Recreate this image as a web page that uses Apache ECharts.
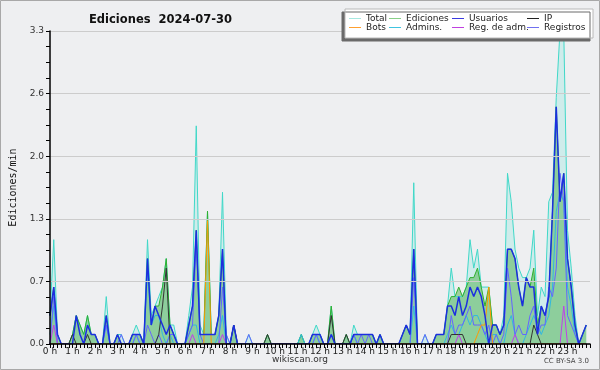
<!DOCTYPE html>
<html><head><meta charset="utf-8">
<script src="https://cdn.jsdelivr.net/npm/echarts/dist/echarts.min.js"></script>
<style>html,body{margin:0;padding:0;background:#eeeff1}#c{width:600px;height:370px}</style>
</head><body><div id="c"></div>
<script>
// 10-minute slots, 6 per hour, values in edits per minute
const hourLabels = ['0 h','1 h','2 h','3 h','4 h','5 h','6 h','7 h','8 h','9 h','10 h','11 h','12 h','13 h','14 h','15 h','16 h','17 h','18 h','19 h','20 h','21 h','22 h','23 h'];
const yTicks = [0, 0.66, 1.32, 1.98, 2.64, 3.3];

const total = [
 0.3,1.1,0.1,0,0,0,  0.1,0.3,0.2,0.1,0.3,0.1,  0.1,0,0,0.5,0,0,  0.1,0.1,0,0,0.1,0.2,
 0.1,0,1.1,0.3,0.4,0.5,  0.6,0.9,0.2,0.2,0,0,  0,0.3,0.6,2.3,0.2,0.1,  1.4,0.1,0.1,0.3,1.6,0.1,
 0,0.2,0,0,0,0.1,  0,0,0,0,0.1,0,  0,0,0,0,0,0,  0,0.1,0,0,0.1,0.2,
 0.1,0,0,0.4,0,0,  0,0.1,0,0.2,0.1,0.1,  0.1,0.1,0.1,0,0.1,0,  0,0,0,0,0.1,0.2,
 0.1,1.7,0,0,0.1,0,  0,0.1,0.1,0.1,0.4,0.8,  0.5,0.5,0.5,0.6,1.1,0.8,  1.0,0.6,0.6,0.6,0.2,0.2,
 0.1,0.3,1.8,1.5,1.0,0.8,  0.7,0.7,0.8,1.2,0.3,0.6,  0.5,1.5,1.6,2.6,3.3,3.3,  1.2,0.8,0.3,0,0.1,0.2
];
const ediciones = [
 0.3,0.6,0.1,0,0,0,  0.1,0.3,0.2,0.1,0.3,0.1,  0.1,0,0,0.3,0,0,  0.1,0,0,0,0.1,0.1,
 0.1,0,0.9,0.2,0.4,0.4,  0.6,0.9,0.2,0.1,0,0,  0,0.2,0.4,1.2,0.1,0.1,  1.4,0.1,0.1,0.3,1.0,0,
 0,0.2,0,0,0,0,  0,0,0,0,0.1,0,  0,0,0,0,0,0,  0,0.1,0,0,0.1,0.1,
 0.1,0,0,0.4,0,0,  0,0.1,0,0.1,0.1,0.1,  0.1,0.1,0.1,0,0.1,0,  0,0,0,0,0.1,0.2,
 0.1,1.0,0,0,0,0,  0,0.1,0.1,0.1,0.4,0.5,  0.5,0.6,0.5,0.6,0.7,0.7,  0.8,0.6,0.4,0.6,0.2,0.2,
 0.1,0.2,1.0,1.0,0.9,0.6,  0.4,0.7,0.6,0.8,0.2,0.4,  0.3,0.5,1.4,2.5,1.5,1.8,  0.9,0.6,0.2,0,0.1,0.2
];
const usuarios = [
 0.3,0.6,0.1,0,0,0,  0,0.3,0.1,0,0.2,0.1,  0.1,0,0,0.3,0,0,  0.1,0,0,0,0.1,0.1,
 0.1,0,0.9,0.2,0.4,0.3,  0.2,0.1,0.2,0.1,0,0,  0,0.2,0.4,1.2,0.1,0.1,  0.1,0.1,0.1,0.3,1.0,0,
 0,0.2,0,0,0,0,  0,0,0,0,0,0,  0,0,0,0,0,0,  0,0,0,0,0.1,0.1,
 0.1,0,0,0.1,0,0,  0,0,0,0.1,0.1,0.1,  0.1,0.1,0.1,0,0.1,0,  0,0,0,0,0.1,0.2,
 0.1,1.0,0,0,0,0,  0,0.1,0.1,0.1,0.4,0.4,  0.3,0.5,0.3,0.4,0.6,0.5,  0.6,0.5,0.3,0,0.2,0.2,
 0.1,0.2,1.0,1.0,0.9,0.6,  0.4,0.7,0.6,0.6,0.1,0.4,  0.3,0.5,1.4,2.5,1.5,1.8,  0.9,0.6,0.2,0,0.1,0.2
];
const ip = [
 0,0,0,0,0,0,  0.1,0,0,0,0.1,0,  0,0,0,0,0,0,  0,0,0,0,0,0,
 0,0,0,0,0,0.1,  0.4,0.8,0,0,0,0,  0,0,0,0,0,0,  0,0,0,0,0,0,
 0,0.2,0,0,0,0,  0,0,0,0,0.1,0,  0,0,0,0,0,0,  0,0,0,0,0,0,
 0,0,0,0.3,0,0,  0,0.1,0,0,0,0,  0,0,0,0,0,0,  0,0,0,0,0,0,
 0,0,0,0,0,0,  0,0,0,0,0,0.1,  0.1,0.1,0.1,0,0,0,  0,0,0,0,0,0,
 0,0,0,0,0,0,  0,0,0,0.2,0.1,0,  0,0,0,0,0,0,  0,0,0,0,0,0
];
const bots = [
 0,0,0,0,0,0,  0,0,0,0,0,0,  0,0,0,0,0,0,  0,0,0,0,0,0,
 0,0,0,0,0,0,  0,0,0,0,0,0,  0,0,0,0,0,0,  1.3,0,0,0,0,0,
 0,0,0,0,0,0,  0,0,0,0,0,0,  0,0,0,0,0,0,  0,0,0,0,0,0,
 0,0,0,0,0,0,  0,0,0,0,0,0,  0,0,0,0,0,0,  0,0,0,0,0,0,
 0,0,0,0,0,0,  0,0,0,0,0,0,  0,0,0,0,0,0,  0.1,0.2,0.2,0.6,0,0,
 0,0,0,0,0,0,  0,0,0,0,0,0,  0,0,0,0,0,0,  0,0,0,0,0,0
];
const admins = [
 0.1,0.4,0,0,0,0,  0,0,0,0,0,0,  0,0,0,0.2,0,0,  0,0,0,0,0,0.1,
 0,0,0.8,0.2,0.3,0.3,  0.1,0,0.1,0,0,0,  0,0.1,0.2,0.2,0,0,  0,0,0,0.1,0.3,0,
 0,0,0,0,0,0,  0,0,0,0,0,0,  0,0,0,0,0,0,  0,0.1,0,0,0,0.1,
 0,0,0,0.1,0,0,  0,0,0,0.1,0,0,  0,0,0,0,0,0,  0,0,0,0,0,0,
 0,0.4,0,0,0,0,  0,0,0,0,0.1,0.2,  0.1,0.1,0.2,0.3,0.2,0.3,  0.3,0.2,0.1,0,0.1,0.1,
 0,0,0.2,0.3,0.1,0,  0,0.1,0.2,0.3,0.2,0.1,  0.2,0.3,0.6,1.4,1.6,1.5,  0.6,0.4,0.1,0,0,0
];
const regAdm = [
 0,0.2,0,0,0,0,  0,0,0,0,0,0,  0,0,0,0,0,0,  0,0,0,0,0,0,
 0,0,0,0,0,0,  0,0,0,0,0,0,  0,0,0.1,0,0,0,  0,0,0,0,0.1,0,
 0,0,0,0,0,0,  0,0,0,0,0,0,  0,0,0,0,0,0,  0,0,0,0,0,0,
 0,0,0,0,0,0,  0,0,0,0,0,0,  0,0,0,0,0,0,  0,0,0,0,0,0,
 0,0,0,0,0,0,  0,0,0,0,0,0,  0,0.1,0,0,0,0,  0,0,0,0,0,0,
 0,0,0,0,0.1,0,  0,0,0,0,0,0,  0,0,0,0,0,0.4,  0,0,0,0,0,0
];
const registros = [
 0,0.5,0,0,0,0,  0,0,0,0,0,0,  0,0,0,0.2,0,0,  0,0.1,0,0,0,0.1,
 0,0,0.2,0.1,0,0.1,  0,0,0.1,0.1,0,0,  0,0.1,0.2,1.1,0.1,0,  0,0,0,0,0.6,0.1,
 0,0,0,0,0,0.1,  0,0,0,0,0,0,  0,0,0,0,0,0,  0,0,0,0,0,0.1,
 0,0,0,0,0,0,  0,0,0,0.1,0,0.1,  0,0.1,0,0,0,0,  0,0,0,0,0,0,
 0,0.7,0,0,0.1,0,  0,0,0,0,0,0.3,  0.1,0.2,0.2,0.3,0.4,0.2,  0.2,0.2,0.1,0.2,0,0.1,
 0,0.1,0.8,0.5,0.1,0.2,  0.1,0.1,0.3,0.4,0.1,0.2,  0.2,0.6,0.5,0.8,1.8,1.5,  0.3,0.2,0.1,0,0,0
];

const defs = [
  {name:'Total', data:total, color:'#40d8c8', legend:'#a6e8e0', area:'rgba(64,224,208,0.18)', w:1},
  {name:'Ediciones', data:ediciones, color:'#30b030', legend:'#88d088', area:'rgba(60,170,60,0.45)', w:1},
  {name:'Admins.', data:admins, color:'#30b8e0', legend:'#40c4e0', w:1},
  {name:'Registros', data:registros, color:'#6464ff', legend:'#7070f0', w:1},
  {name:'Reg. de adm.', data:regAdm, color:'#c040e8', legend:'#c040e0', w:1},
  {name:'IP', data:ip, color:'#333333', legend:'#222222', w:1},
  {name:'Bots', data:bots, color:'#ff9900', legend:'#ffa030', w:1},
  {name:'Usuarios', data:usuarios, color:'#1c2ee0', legend:'#3a3ae0', w:1.5}
];
const legendCols = [['Total','Bots'],['Ediciones','Admins.'],['Usuarios','Reg. de adm.'],['IP','Registros']];
const legendX = [349, 389, 452, 527];

const series = defs.map(d => ({
  name: d.name, type: 'line', symbol: 'none', animation: false,
  data: d.data.map((v, i) => [i, v]),
  color: d.color,
  itemStyle: {color: d.color},
  lineStyle: {color: d.color, width: d.w},
  areaStyle: d.area ? {color: d.area, opacity: 1} : undefined,
  z: 2
}));
const legColor = {};
defs.forEach(d => legColor[d.name] = d.legend);

const chart = echarts.init(document.getElementById('c'), null, {renderer: 'canvas'});
chart.setOption({
  backgroundColor: '#eeeff1',
  animation: false,
  title: {text: 'Ediciones  2024-07-30', left: 84, top: 9,
    textStyle: {fontFamily: 'DejaVu Sans', fontSize: 11.5, fontWeight: 'bold', color: '#111'}},
  grid: {left: 46, right: 10, top: 31, bottom: 26, containLabel: false},
  legend: legendCols.map((col, k) => ({
    orient: 'vertical', left: legendX[k], top: 14, itemGap: 0,
    icon: 'rect', itemWidth: 12, itemHeight: 1, itemGap: 0,
    textStyle: {fontFamily: 'DejaVu Sans', fontSize: 9, color: '#222', lineHeight: 9, padding: 0},
    padding: 0, selectedMode: false, z: 20,
    data: col.map(n => ({name: n, itemStyle: {color: legColor[n]}}))
  })),
  xAxis: {
    type: 'value', min: 0, max: 144, interval: 6, z: 10,
    axisLine: {show: true, lineStyle: {color: '#000', width: 1.5}},
    axisTick: {show: true, length: 4, lineStyle: {color: '#000'}},
    minorTick: {show: true, splitNumber: 6, length: 4, lineStyle: {color: '#000'}},
    splitLine: {show: false},
    axisLabel: {fontFamily: 'DejaVu Sans', fontSize: 9, color: '#222', margin: 3,
      formatter: v => (v < 144 ? hourLabels[v / 6] : '')}
  },
  yAxis: {
    type: 'value', min: 0, max: 3.3, interval: 0.66, z: 10,
    name: 'Ediciones/min', nameLocation: 'middle', nameGap: 32, nameRotate: 90,
    nameTextStyle: {fontFamily: 'DejaVu Sans Mono', fontSize: 10, color: '#111'},
    axisLine: {show: true, lineStyle: {color: '#000', width: 1.5}},
    axisTick: {show: true, length: 4, lineStyle: {color: '#000'}},
    minorTick: {show: true, splitNumber: 4, length: 4, lineStyle: {color: '#000'}},
    splitLine: {show: true, lineStyle: {color: '#cccccc', width: 1}},
    axisLabel: {fontFamily: 'DejaVu Sans', fontSize: 9, color: '#333', margin: 6,
      formatter: v => v.toFixed(1)}
  },
  series: series,
  graphic: [
    {type: 'rect', z: 15, shape: {x: 345, y: 9, width: 248, height: 29},
      style: {fill: '#ffffff', stroke: '#b8b8b8', lineWidth: 1,
        shadowColor: '#6a6a6a', shadowOffsetX: -3, shadowOffsetY: 3, shadowBlur: 0}},
    {type: 'text', z: 20, left: 'center', top: 355,
      style: {text: 'wikiscan.org', fontFamily: 'DejaVu Sans', fontSize: 9, fill: '#333'}},
    {type: 'text', z: 20, right: 11, top: 358,
      style: {text: 'CC BY-SA 3.0', fontFamily: 'DejaVu Sans', fontSize: 7, fill: '#444'}},
    {type: 'rect', z: 30, silent: true, shape: {x: 0.5, y: 0.5, width: 599, height: 369},
      style: {fill: 'none', stroke: '#a8a8a8', lineWidth: 1}}
  ]
});
</script></body></html>
